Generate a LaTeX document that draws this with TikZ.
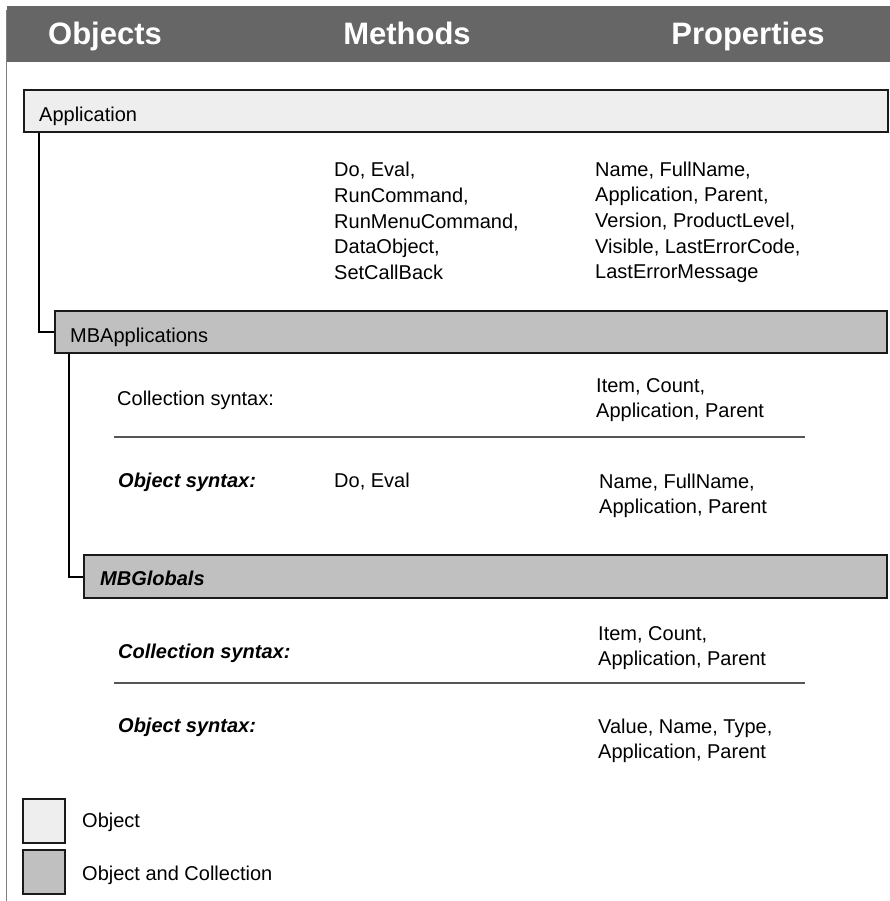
\documentclass[tikz,border=0pt]{standalone}
\usepackage{fontspec}
\setmainfont{Liberation Sans}
\definecolor{headgray}{HTML}{666666}
\definecolor{objfill}{HTML}{EEEEEE}
\definecolor{collfill}{HTML}{C0C0C0}
\definecolor{rulegray}{HTML}{555555}
\definecolor{edge}{HTML}{1A1A1A}
\begin{document}
\begin{tikzpicture}[x=1pt,y=-1pt,
  headtext/.style={font=\fontsize{31}{36}\selectfont\bfseries, text=white, anchor=base, inner sep=0pt},
  % multi-line nodes sit on the baseline of their last line
  body/.style={font=\fontsize{20}{25.7}\selectfont, anchor=base west, align=left, inner sep=0pt},
  bodyem/.style={body, font=\fontsize{20}{25.7}\selectfont\bfseries\itshape},
  objbox/.style={draw=edge, line width=2pt, fill=objfill, rectangle, anchor=north west, inner sep=0pt},
  collbox/.style={objbox, fill=collfill},
  tree/.style={draw=black, line width=2pt},
  seprule/.style={draw=rulegray, line width=2pt}]
\useasboundingbox (0,0) rectangle (890,901);

% column headings
\fill[headgray] (7,6) rectangle (890,62);
\draw[gray, line width=1pt] (6.5,10) -- (6.5,901);
\node[headtext] (hObj) at (105,45) {Objects};
\node[headtext] (hMeth) at (407,45) {Methods};
\node[headtext] (hProp) at (748,45) {Properties};

% Application
\node[objbox, minimum width=864, minimum height=42] (app) at (23,89) {};
\node[body] (appLbl) at (39,122) {Application};
\node[body] (appMeth) at (334,279.5) {Do, Eval,\\RunCommand,\\RunMenuCommand,\\DataObject,\\SetCallBack};
\node[body] (appProp) at (595,278.8) {Name, FullName,\\Application, Parent,\\Version, ProductLevel,\\Visible, LastErrorCode,\\LastErrorMessage};

% MBApplications
\node[collbox, minimum width=832, minimum height=42] (mbapp) at (54,310) {};
\node[body] (mbappLbl) at (70,342) {MBApplications};
\draw[tree] ([xshift=16pt]app.south west) |- (mbapp.west);
\node[body] (mbaCollLbl) at (117,405) {Collection syntax:};
\node[body] (mbaCollProp) at (596,417.7) {Item, Count,\\Application, Parent};
\coordinate (sepA1) at (114,437);
\coordinate (sepA2) at (805,437);
\draw[seprule] (sepA1) -- (sepA2);
\node[bodyem] (mbaObjLbl) at (118,487) {Object syntax:};
\node[body] (mbaObjMeth) at (334,487) {Do, Eval};
\node[body] (mbaObjProp) at (599,513.7) {Name, FullName,\\Application, Parent};

% MBGlobals
\node[collbox, minimum width=803, minimum height=43] (mbglob) at (83,554) {};
\node[bodyem] (mbglobLbl) at (100,585) {MBGlobals};
\draw[tree] ([xshift=15pt]mbapp.south west) |- (mbglob.west);
\node[bodyem] (mbgCollLbl) at (118,658) {Collection syntax:};
\node[body] (mbgCollProp) at (598,665.7) {Item, Count,\\Application, Parent};
\coordinate (sepG1) at (114,683);
\coordinate (sepG2) at (805,683);
\draw[seprule] (sepG1) -- (sepG2);
\node[bodyem] (mbgObjLbl) at (118,732) {Object syntax:};
\node[body] (mbgObjProp) at (598,758.7) {Value, Name, Type,\\Application, Parent};

% legend
\node[objbox, minimum width=42, minimum height=44] (legObj) at (22,798) {};
\node[body] (legObjLbl) at (82,827) {Object};
\node[collbox, minimum width=42, minimum height=44] (legColl) at (22,849) {};
\node[body] (legCollLbl) at (82,880) {Object and Collection};
\end{tikzpicture}
\end{document}
